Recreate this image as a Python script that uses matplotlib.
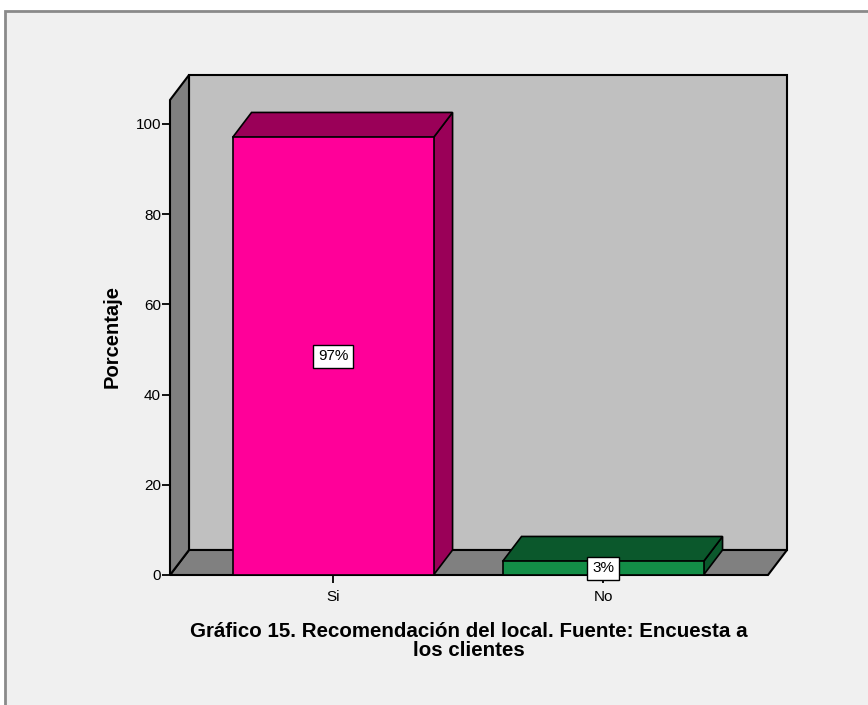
import matplotlib
matplotlib.use("Agg")
import matplotlib.pyplot as plt
from matplotlib.patches import Rectangle, Polygon

plt.rcParams['font.family'] = ['Liberation Sans', 'DejaVu Sans']

# Survey results
categories = ["Si", "No"]
percentages = [97, 3]
value_labels = ["97%", "3%"]
y_ticks = [0, 20, 40, 60, 80, 100]

front_colors = ["#FF0099", "#138E47"]
shade_colors = ["#9A0058", "#0B582C"]

W, H, DPI = 868, 705, 100
fig = plt.figure(figsize=(W / DPI, H / DPI), dpi=DPI, facecolor="white")

# outer panel with grey frame
panel = Rectangle((5 / W, -0.05), 1.0, 1 - 11 / H + 0.05,
                  transform=fig.transFigure, facecolor="#F0F0F0",
                  edgecolor="#8A8A8A", linewidth=2.0, zorder=-10)
fig.patches.append(panel)

# front plane of the 3D box
left_px, right_px, bottom_px, top_px = 170, 768, 575, 100
ax = fig.add_axes([left_px / W, (H - bottom_px) / H,
                   (right_px - left_px) / W, (bottom_px - top_px) / H])
ax.set_facecolor("none")
x0, x1 = -0.604, 1.611
ymax = 105.3
ax.set_xlim(x0, x1)
ax.set_ylim(0, ymax)
for s in ax.spines.values():
    s.set_visible(False)

# depth offset expressed in data units (19 px right, 25 px up)
px_x = (right_px - left_px) / (x1 - x0)
px_y = (bottom_px - top_px) / ymax
DX = 19 / px_x
DY = 25 / px_y

wall_kw = dict(edgecolor="black", linewidth=1.5, clip_on=False, joinstyle="miter")

# back wall
ax.add_patch(Rectangle((x0 + DX, DY), x1 - x0, ymax,
                       facecolor="#C0C0C0", zorder=1, **wall_kw))
# left wall
ax.add_patch(Polygon([(x0, 0), (x0, ymax), (x0 + DX, ymax + DY), (x0 + DX, DY)],
                     closed=True, facecolor="#808080", zorder=1.2, **wall_kw))
# floor
ax.add_patch(Polygon([(x0, 0), (x1, 0), (x1 + DX, DY), (x0 + DX, DY)],
                     closed=True, facecolor="#808080", zorder=1.1, **wall_kw))

# 3D bars
bar_w = 201 / px_x
bar_kw = dict(edgecolor="black", linewidth=1.2, clip_on=False, joinstyle="miter")
for i, (val, fc, sc) in enumerate(zip(percentages, front_colors, shade_colors)):
    xl, xr = i - bar_w / 2, i + bar_w / 2
    ax.add_patch(Polygon([(xr, 0), (xr + DX, DY), (xr + DX, val + DY), (xr, val)],
                         closed=True, facecolor=sc, zorder=3, **bar_kw))
    ax.add_patch(Polygon([(xl, val), (xr, val), (xr + DX, val + DY), (xl + DX, val + DY)],
                         closed=True, facecolor=sc, zorder=3, **bar_kw))
    ax.add_patch(Rectangle((xl, 0), bar_w, val, facecolor=fc, zorder=4, **bar_kw))
    ax.text(i, val / 2, value_labels[i], ha="center", va="center", fontsize=11,
            zorder=6,
            bbox=dict(boxstyle="square,pad=0.3", facecolor="white",
                      edgecolor="black", linewidth=1.0))

ax.set_xticks(range(len(categories)))
ax.set_xticklabels(categories, fontsize=11)
ax.set_yticks(y_ticks)
ax.set_yticklabels([str(t) for t in y_ticks], fontsize=11)
ax.tick_params(axis="both", length=6, width=1.3, color="black")
ax.tick_params(axis="y", pad=0.5)
ax.tick_params(axis="x", pad=4.5)
ax.set_ylabel("Porcentaje", fontsize=14.5, fontweight="bold")
ax.yaxis.set_label_coords(-48 / (right_px - left_px), (bottom_px - 337) / (bottom_px - top_px))

fig.text(469 / W, 1 - 641 / H,
         "Gráfico 15. Recomendación del local. Fuente: Encuesta a\nlos clientes",
         ha="center", va="center", fontsize=14.8, fontweight="bold", linespacing=1.05)

fig.savefig("out.png", dpi=DPI, facecolor=fig.get_facecolor())
